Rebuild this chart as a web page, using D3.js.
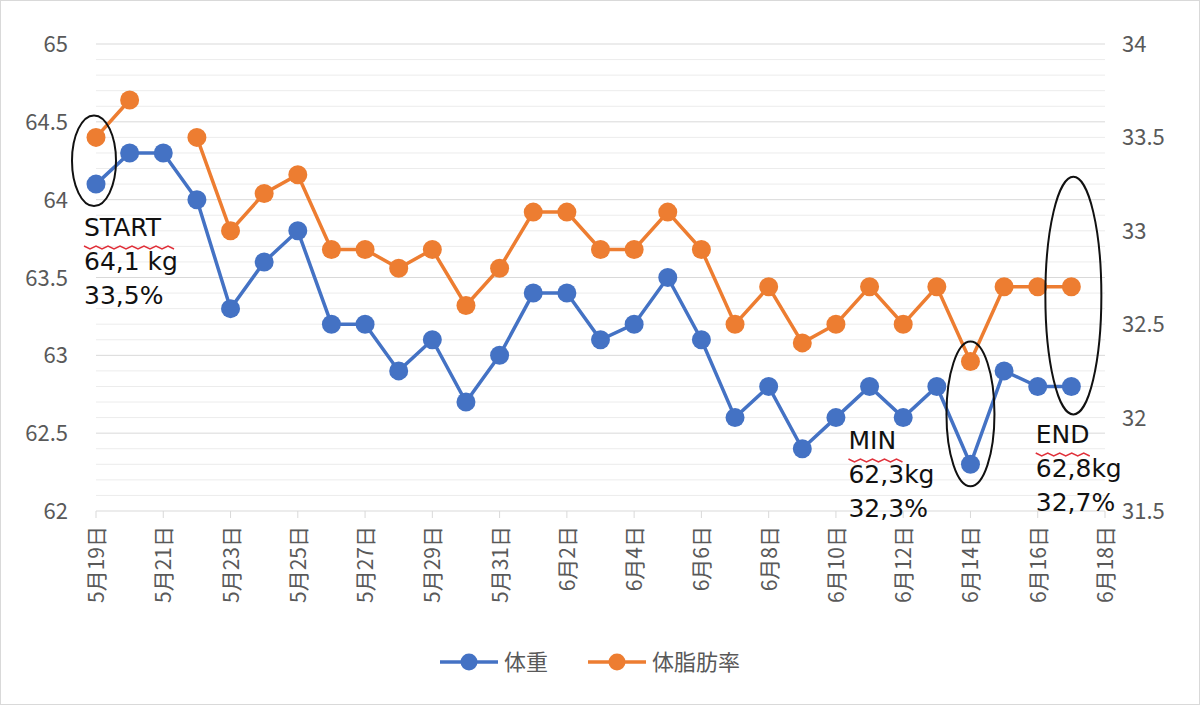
<!DOCTYPE html>
<html><head><meta charset="utf-8">
<script src="https://cdn.jsdelivr.net/npm/d3@7"></script>
<style>body{margin:0;background:#fff}</style>
</head><body><div id="chart"></div>
<script>
const days = d3.range(0, 30); // day offsets from 5/19
const weight = [64.1,64.3,64.3,64.0,63.3,63.6,63.8,63.2,63.2,62.9,63.1,62.7,63.0,63.4,63.4,63.1,63.2,63.5,63.1,62.6,62.8,62.4,62.6,62.8,62.6,62.8,62.3,62.9,62.8,62.8];
const fat = [33.5,33.7,null,33.5,33.0,33.2,33.3,32.9,32.9,32.8,32.9,32.6,32.8,33.1,33.1,32.9,32.9,33.1,32.9,32.5,32.7,32.4,32.5,32.7,32.5,32.7,32.3,32.7,32.7,32.7];
const leftTicks = [62,62.5,63,63.5,64,64.5,65];
const rightTicks = [31.5,32,32.5,33,33.5,34];
const seriesNames = ["体重","体脂肪率"];
const colors = ["#4472C4","#ED7D31"];
const notes = [
  {day:0, lines:["START","64,1 kg","33,5%"], dx:-12, y:236},
  {day:26, lines:["MIN","62,3kg","32,3%"], dx:-122, y:449},
  {day:28, lines:["END","62,8kg","32,7%"], dx:-2, y:443}
];

const W=1200,H=705;
const svg=d3.select("#chart").append("svg").attr("width",W).attr("height",H);
svg.append("rect").attr("x",0.5).attr("y",0.5).attr("width",W-1).attr("height",H-1).attr("fill","#fff").attr("stroke","#d9d9d9");
const x=d3.scaleLinear().domain([0,30]).range([96,1105]);
const yL=d3.scaleLinear().domain([62,65]).range([511,44]);
const yR=d3.scaleLinear().domain([31.5,34]).range([511,44]);
const font="'Noto Sans CJK JP','Noto Sans',sans-serif";

// grid
svg.append("g").selectAll("line").data(d3.range(0,31).map(i=>62+i*0.1)).join("line")
  .attr("x1",96).attr("x2",1105).attr("y1",d=>yL(d)).attr("y2",d=>yL(d))
  .attr("stroke",(d,i)=>i%5===0?"#d9d9d9":"#ececec").attr("stroke-width",1);

// axes
svg.append("g").selectAll("text").data(leftTicks).join("text")
  .attr("x",68).attr("y",d=>yL(d)+8).attr("text-anchor","end").attr("font-family",font)
  .attr("font-size",22).attr("fill","#595959").text(d=>d);
svg.append("g").selectAll("text").data(rightTicks).join("text")
  .attr("x",1122).attr("y",d=>yR(d)+8).attr("font-family",font)
  .attr("font-size",22).attr("fill","#595959").text(d=>d);
const xt=d3.range(0,31,2);
const fmt=d3.timeFormat("%-m月%-d日");
const base=new Date(2021,4,19);
svg.append("g").selectAll("line").data(xt).join("line")
  .attr("x1",d=>x(d)).attr("x2",d=>x(d)).attr("y1",511).attr("y2",518).attr("stroke","#d9d9d9");
svg.append("g").selectAll("text").data(xt).join("text")
  .attr("transform",d=>`translate(${x(d)+8},526) rotate(-90)`).attr("text-anchor","end")
  .attr("font-family",font).attr("font-size",21).attr("fill","#595959")
  .text(d=>fmt(d3.timeDay.offset(base,d)));

// series
function drawSeries(vals,y,c){
  const line=d3.line().defined(d=>d!=null).x((d,i)=>x(i)).y(d=>y(d));
  svg.append("path").datum(vals).attr("d",line).attr("fill","none").attr("stroke",c).attr("stroke-width",3.5);
  svg.append("g").selectAll("circle").data(days.filter(i=>vals[i]!=null)).join("circle")
    .attr("cx",i=>x(i)).attr("cy",i=>y(vals[i])).attr("r",9.5).attr("fill",c);
}
drawSeries(weight,yL,colors[0]);
drawSeries(fat,yR,colors[1]);

// handwritten ovals: [day, x shift, rx, extra top, extra bottom]
[[0,-2,22,22,22],[26,0,24,20,22],[29,2,28,110,28]].forEach(([d,sx,rx,et,eb])=>{
  const a=yL(weight[d]),b=yR(fat[d]);
  const top=Math.min(a,b)-et,bot=Math.max(a,b)+eb;
  svg.append("ellipse").attr("cx",x(d)+sx).attr("cy",(top+bot)/2)
    .attr("rx",rx).attr("ry",(bot-top)/2)
    .attr("fill","none").attr("stroke","#111").attr("stroke-width",2);
});
// notes
notes.forEach(n=>{
  const g=svg.append("g").attr("transform",`translate(${x(n.day)+n.dx},${n.y})`);
  n.lines.forEach((t,i)=>g.append("text").attr("y",i*34).attr("font-family","'DejaVu Sans',sans-serif")
    .attr("font-size",25).attr("fill","#111").text(t));
  const wl=n.lines[0].length*18;
  g.append("path").attr("d",d3.range(0,wl+1,6).map((v,i)=>(i?"L":"M")+v+","+(10+(i%2?3:0))).join(""))
    .attr("fill","none").attr("stroke","#e0303a").attr("stroke-width",1.5);
});

// legend
const lg=svg.append("g").attr("transform","translate(440,662)");
seriesNames.forEach((s,i)=>{
  const g=lg.append("g").attr("transform",`translate(${i*148},0)`);
  g.append("line").attr("x1",0).attr("x2",58).attr("stroke",colors[i]).attr("stroke-width",3.5);
  g.append("circle").attr("cx",29).attr("r",8.5).attr("fill",colors[i]);
  g.append("text").attr("x",64).attr("y",8).attr("font-family",font).attr("font-size",22).attr("fill","#595959").text(s);
});
</script></body></html>
